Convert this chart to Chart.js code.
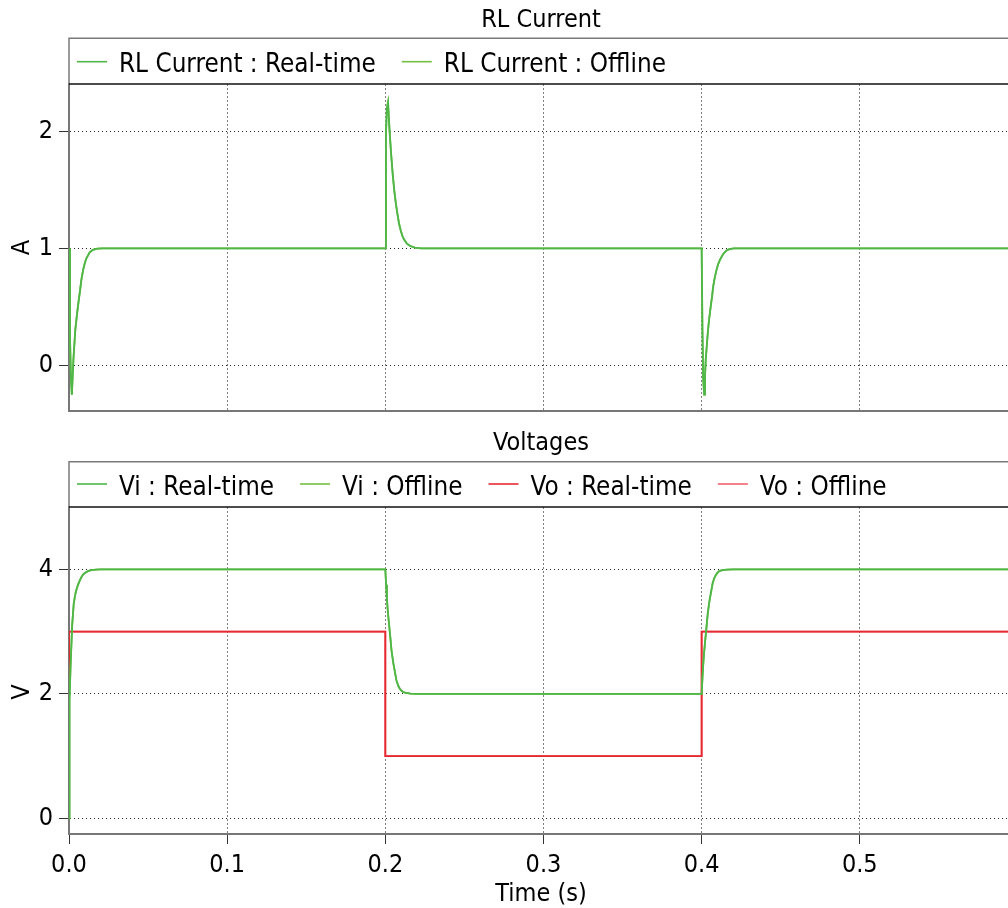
<!DOCTYPE html>
<html><head><meta charset="utf-8">
<script src="https://cdn.jsdelivr.net/npm/chart.js@4.4.1/dist/chart.umd.min.js"></script>
<style>
html,body{margin:0;padding:0;background:#fff;overflow:hidden;width:1008px;height:908px;}
canvas{position:absolute;left:0;display:block;}
#c1{top:0}
#c2{top:425px}
</style></head><body>
<canvas id="c1" width="1008" height="425"></canvas>
<canvas id="c2" width="1008" height="483"></canvas>
<script>
const FONT = "'DejaVu Sans Condensed', 'DejaVu Sans', sans-serif";

// ---- axes ----
const X_MAX = 0.5937;
const xTicks = [0, 0.1, 0.2, 0.3, 0.4, 0.5];
const xTickLabels = ['0.0', '0.1', '0.2', '0.3', '0.4', '0.5'];
const currentTicks = [0, 1, 2];
const voltageTicks = [0, 2, 4];

// ---- RL Current (A) ----
const currentTime = [
  0, 0.0006, 0.0012, 0.0018, 0.0023, 0.0028, 0.0033, 0.004, 0.005, 0.006, 0.007, 0.0078, 0.009, 0.010, 0.011, 0.013, 0.015, 0.018, 0.021,
  0.2, 0.2004, 0.2010, 0.2017, 0.2027, 0.2037, 0.2047, 0.2057, 0.2067, 0.2077, 0.2087, 0.2097, 0.2107, 0.2117, 0.2137, 0.2157, 0.2187, 0.2227,
  0.4, 0.4005, 0.4010, 0.4016, 0.4021, 0.4026, 0.4031, 0.4036, 0.4041, 0.4047, 0.4057, 0.4067, 0.4073, 0.4083, 0.4093, 0.4103, 0.4115, 0.4135, 0.4155, 0.4175, 0.4205,
  0.6
];
const currentRealtime = [
  1.0, 0.25, -0.1, -0.25, -0.1, 0.05, 0.16, 0.305, 0.43, 0.54, 0.64, 0.73, 0.82, 0.875, 0.915, 0.965, 0.988, 0.998, 1.0,
  1.0, 1.98, 2.2, 2.25, 2.0, 1.80, 1.63, 1.49, 1.38, 1.29, 1.21, 1.155, 1.11, 1.08, 1.04, 1.02, 1.006, 1.0,
  1.0, 0.3, -0.12, -0.25, -0.1, 0.05, 0.14, 0.23, 0.31, 0.39, 0.50, 0.60, 0.675, 0.75, 0.81, 0.86, 0.90, 0.95, 0.98, 0.993, 1.0,
  1.0
];
const currentOffline = [
  1.0, 0.25, -0.1, -0.25, -0.1, 0.05, 0.16, 0.305, 0.43, 0.54, 0.64, 0.73, 0.82, 0.875, 0.915, 0.965, 0.988, 0.998, 1.0,
  1.0, 1.98, 2.2, 2.25, 2.0, 1.80, 1.63, 1.49, 1.38, 1.29, 1.21, 1.155, 1.11, 1.08, 1.04, 1.02, 1.006, 1.0,
  1.0, 0.3, -0.12, -0.25, -0.1, 0.05, 0.14, 0.23, 0.31, 0.39, 0.50, 0.60, 0.675, 0.75, 0.81, 0.86, 0.90, 0.95, 0.98, 0.993, 1.0,
  1.0
];

// ---- Vi (V) ----
const viTime = [
  0, 0.0003, 0.001, 0.002, 0.003, 0.004, 0.005, 0.006, 0.007, 0.008, 0.009, 0.010, 0.012, 0.014, 0.017, 0.020,
  0.2, 0.2005, 0.201, 0.2015, 0.2023, 0.203, 0.2039, 0.205, 0.206, 0.207, 0.208, 0.209, 0.210, 0.2112, 0.213, 0.216, 0.220,
  0.4, 0.4005, 0.401, 0.4015, 0.4023, 0.403, 0.4039, 0.405, 0.406, 0.407, 0.408, 0.409, 0.410, 0.4112, 0.413, 0.416, 0.420,
  0.6
];
const viRealtime = [
  0, 1.9, 2.45, 3.1, 3.45, 3.6, 3.7, 3.77, 3.83, 3.88, 3.92, 3.94, 3.97, 3.985, 3.995, 4.0,
  4.0, 3.75, 3.53, 3.35, 3.13, 2.95, 2.70, 2.50, 2.36, 2.22, 2.14, 2.09, 2.055, 2.03, 2.015, 2.005, 2.0,
  2.0, 2.25, 2.47, 2.65, 2.87, 3.05, 3.30, 3.50, 3.64, 3.78, 3.86, 3.91, 3.945, 3.97, 3.985, 3.995, 4.0,
  4.0
];
const viOffline = [
  0, 1.9, 2.45, 3.1, 3.45, 3.6, 3.7, 3.77, 3.83, 3.88, 3.92, 3.94, 3.97, 3.985, 3.995, 4.0,
  4.0, 3.75, 3.53, 3.35, 3.13, 2.95, 2.70, 2.50, 2.36, 2.22, 2.14, 2.09, 2.055, 2.03, 2.015, 2.005, 2.0,
  2.0, 2.25, 2.47, 2.65, 2.87, 3.05, 3.30, 3.50, 3.64, 3.78, 3.86, 3.91, 3.945, 3.97, 3.985, 3.995, 4.0,
  4.0
];

// ---- Vo (V) ----
const voTime = [0, 0.00005, 0.2, 0.2, 0.4, 0.4, 0.6];
const voRealtime = [0, 3, 3, 1, 1, 3, 3];
const voOffline = [0, 3, 3, 1, 1, 3, 3];

const pts = (xs, ys) => xs.map((x, i) => ({x: x, y: ys[i]}));

const framePlugin = {
  id: 'frame',
  afterDraw(chart, args, o) {
    const ctx = chart.ctx, a = chart.chartArea;
    ctx.save();
    ctx.fillStyle = '#000';
    ctx.textBaseline = 'alphabetic';
    ctx.textAlign = 'center';
    ctx.font = '25px ' + FONT;
    ctx.fillText(o.title, o.centerX, o.titleBaseline);
    // legend frame
    ctx.strokeStyle = '#7a7a7a'; ctx.lineWidth = 1.5;
    ctx.beginPath();
    ctx.moveTo(a.left, a.top); ctx.lineTo(a.left, o.boxTop); ctx.lineTo(chart.width + 5, o.boxTop);
    ctx.stroke();
    ctx.strokeStyle = '#111'; ctx.lineWidth = 1.3;
    ctx.beginPath(); ctx.moveTo(a.left, a.top); ctx.lineTo(chart.width + 5, a.top); ctx.stroke();
    // legend items
    ctx.font = '25.8px ' + FONT;
    ctx.textAlign = 'left';
    let x = a.left + 8;
    chart.data.datasets.forEach(ds => {
      ctx.strokeStyle = ds.borderColor; ctx.lineWidth = 1.6;
      ctx.beginPath(); ctx.moveTo(x, o.lineY); ctx.lineTo(x + 30, o.lineY); ctx.stroke();
      x += 42;
      ctx.fillText(ds.label, x, o.textBaseline);
      x += ctx.measureText(ds.label).width + 26;
    });
    ctx.font = '25px ' + FONT;
    // x title
    if (o.xTitle) {
      ctx.textAlign = 'center';
      ctx.fillText(o.xTitle, o.centerX, o.xTitleBaseline);
    }
    // y title
    ctx.translate(22, o.yTitleY);
    ctx.rotate(-Math.PI / 2);
    ctx.textAlign = 'center'; ctx.textBaseline = 'middle';
    ctx.fillText(o.yTitle, 0, 0);
    ctx.restore();
  }
};

function makeChart(id, datasets, yMin, yMax, yTicks, showX, frame, xAxisHeight, pad) {
  return new Chart(document.getElementById(id), {
    type: 'line',
    data: { datasets: datasets },
    plugins: [framePlugin],
    options: {
      responsive: false, animation: false, events: [],
      layout: { padding: pad },
      elements: { point: { radius: 0 }, line: { borderWidth: 1.8, tension: 0 } },
      plugins: { legend: { display: false }, title: { display: false }, tooltip: { enabled: false }, frame: frame },
      scales: {
        x: {
          type: 'linear', min: 0, max: X_MAX,
          afterBuildTicks: s => { s.ticks = xTicks.map(v => ({value: v})); },
          afterFit: s => { s.height = xAxisHeight; s.paddingLeft = 0; s.paddingRight = 0; s.paddingTop = 0; s.paddingBottom = 0; },
          ticks: { display: showX, font: { family: FONT, size: 25 }, color: '#000', padding: 6, maxRotation: 0, autoSkip: false,
                   callback: (v, i) => xTickLabels[i] },
          grid: { color: '#808080', lineWidth: 1, drawTicks: showX, tickLength: 10,
                  tickColor: '#333', tickWidth: 1, tickBorderDash: [] },
          border: { display: true, color: '#777', width: 2, dash: [2, 2] }
        },
        y: {
          type: 'linear', min: yMin, max: yMax,
          afterBuildTicks: s => { s.ticks = yTicks.map(v => ({value: v})); },
          afterFit: s => { s.width = 69; s.paddingTop = 0; s.paddingBottom = 0; s.paddingLeft = 0; s.paddingRight = 0; },
          ticks: { font: { family: FONT, size: 25 }, color: '#000', padding: 6, callback: v => String(v) },
          grid: { color: '#222', lineWidth: 1, tickLength: 10,
                  tickColor: '#333', tickWidth: 1, tickBorderDash: [] },
          border: { display: true, color: '#777', width: 2, dash: [1, 3] }
        }
      }
    }
  });
}

makeChart('c1', [
  { label: 'RL Current : Real-time', data: pts(currentTime, currentRealtime), borderColor: '#4fb748' },
  { label: 'RL Current : Offline', data: pts(currentTime, currentOffline), borderColor: '#74c043' }
], -0.39, 2.405, currentTicks, false,
  { title: 'RL Current', centerX: 541, titleBaseline: 26.5, boxTop: 38.3, lineY: 61.7, textBaseline: 71.7, yTitle: 'A', yTitleY: 247.5 },
  0, { top: 84, bottom: 14, left: 0, right: 0 });

makeChart('c2', [
  { label: 'Vi : Real-time', data: pts(viTime, viRealtime), borderColor: '#4fb748' },
  { label: 'Vi : Offline', data: pts(viTime, viOffline), borderColor: '#74c043' },
  { label: 'Vo : Real-time', data: pts(voTime, voRealtime), borderColor: '#e62a31' },
  { label: 'Vo : Offline', data: pts(voTime, voOffline), borderColor: '#f2636f' }
], -0.25, 5.0, voltageTicks, true,
  { title: 'Voltages', centerX: 541, titleBaseline: 25, boxTop: 36.7, lineY: 59, textBaseline: 70, yTitle: 'V', yTitleY: 267,
    xTitle: 'Time (s)', xTitleBaseline: 475.5 },
  74, { top: 82, bottom: 0, left: 0, right: 0 });
</script>
</body></html>
